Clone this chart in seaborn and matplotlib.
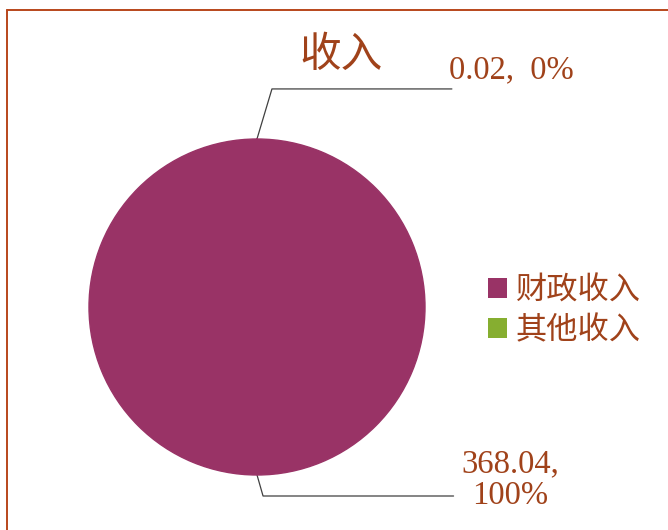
import matplotlib
matplotlib.use("Agg")
import matplotlib.pyplot as plt
from matplotlib.patches import Patch
from matplotlib.lines import Line2D
import numpy as np
import seaborn as sns

# ---- data ----
title = "收入"
categories = ["财政收入", "其他收入"]
values = [368.04, 0.02]
label_texts = ["368.04,\n100%", "0.02,  0%"]

sns.set_theme(style="white")
plt.rcParams['font.family'] = ['Liberation Serif', 'Noto Sans CJK SC', 'DejaVu Sans']

colors = ["#993366", "#86AE30"]
text_color = "#A0421A"
border_color = "#B8461B"

fig = plt.figure(figsize=(6.68, 5.30), dpi=100)
fig.patch.set_facecolor("white")

# pie axes: center (257,307) px, radius 168 px
W, H = 668, 530
cx, cy, r = 257, 307, 168
ax = fig.add_axes([(cx - r) / W, (H - cy - r) / H, 2 * r / W, 2 * r / H])
wedges, _ = ax.pie(values, colors=colors, startangle=90, counterclock=False,
                   radius=1.0, wedgeprops=dict(linewidth=0))
# hide antialias seam of the nearly-full wedge
wedges[0].set_edgecolor(colors[0])
wedges[0].set_linewidth(1.0)
wedges[0].set_zorder(5)
wedges[1].set_zorder(1)
ax.set_xlim(-1, 1)
ax.set_ylim(-1, 1)
ax.set_aspect("equal")
ax.axis("off")

# leader lines + labels (anchors derived from wedge angles)
def anchor(w):
    ang = np.deg2rad((w.theta1 + w.theta2) / 2)
    return np.cos(ang), np.sin(ang)

# small slice (top)
ax0, ay0 = anchor(wedges[1])
ax.plot([ax0, 0.089, 1.16], [ay0, 1.298, 1.298], color="#404040", lw=0.9, clip_on=False)
ax.text(1.14, 1.41, label_texts[1], color=text_color, fontsize=23.5,
        ha="left", va="center", clip_on=False)
# big slice (bottom)
bx0, by0 = anchor(wedges[0])
ax.plot([bx0, 0.036, 1.17], [by0, -1.125, -1.125], color="#404040", lw=0.9, clip_on=False)
ax.text(1.51, -1.03, label_texts[0], color=text_color, fontsize=23.5,
        ha="center", va="center", linespacing=1.05, clip_on=False)

# title
fig.text(341 / W, 1 - 55 / H, title, color=text_color, fontsize=30,
         ha="center", va="center", family=['Noto Sans CJK SC', 'DejaVu Sans'])

# legend
handles = [Patch(facecolor=c, edgecolor="none") for c in colors]
leg = fig.legend(handles, categories, loc="center left",
                 bbox_to_anchor=(488 / W, 1 - 310 / H), frameon=False,
                 prop=dict(family=['Noto Sans CJK SC', 'DejaVu Sans'], size=22.5),
                 handlelength=0.62, handleheight=0.62, handletextpad=0.28,
                 labelspacing=0.25, borderpad=0, borderaxespad=0)
for t in leg.get_texts():
    t.set_color(text_color)

# frame lines (top and left)
fig.add_artist(Line2D([7 / W, 1], [1 - 10 / H, 1 - 10 / H], transform=fig.transFigure,
                      color=border_color, lw=1.4))
fig.add_artist(Line2D([7 / W, 7 / W], [0, 1 - 10 / H], transform=fig.transFigure,
                      color=border_color, lw=1.4))

fig.savefig("out.png", dpi=100, facecolor="white")
